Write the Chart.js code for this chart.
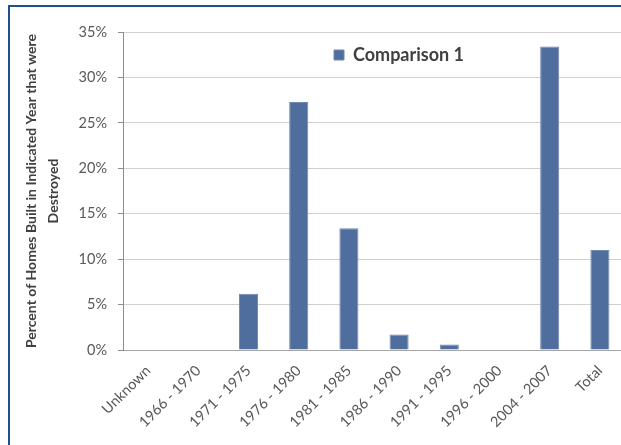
<!DOCTYPE html>
<html><head><meta charset="utf-8">
<script src="https://cdn.jsdelivr.net/npm/chart.js@4.4.1/dist/chart.umd.min.js"></script>
<style>
html,body{margin:0;padding:0;background:#fff;overflow:hidden;width:621px;height:445px;}
#frame{position:absolute;left:8px;top:5px;width:700px;height:600px;border-top:2px solid #1f4f8c;border-left:2px solid #1f4f8c;box-sizing:border-box;}
#c{position:absolute;left:0;top:0;width:630px;height:445px;}
</style></head><body>
<div id="frame"></div>
<canvas id="c" width="630" height="445"></canvas>
<script>
const categories = ['Unknown', '1966 - 1970', '1971 - 1975', '1976 - 1980', '1981 - 1985', '1986 - 1990', '1991 - 1995', '1996 - 2000', '2004 - 2007', 'Total'];
const comparison1 = [0, 0, 6.2, 27.3, 13.4, 1.7, 0.6, 0, 33.4, 11.0];
const seriesLabel = 'Comparison 1';
const yAxisTitle = ['Percent of Homes Built in Indicated Year that were', 'Destroyed'];
const yMin = 0, yMax = 35, yStep = 5;

const FONT = 'Lato, "Liberation Sans", sans-serif';

const moveLegend = {
  id: 'moveLegend',
  afterLayout(chart) {
    const lg = chart.legend;
    if (!lg) return;
    const w = lg.width, h = lg.height;
    lg.left = 324; lg.top = 36;
    lg.right = lg.left + w; lg.bottom = lg.top + h;
  }
};

new Chart(document.getElementById('c'), {
  type: 'bar',
  data: {
    labels: categories,
    datasets: [{
      label: seriesLabel,
      data: comparison1,
      backgroundColor: '#4f6e9e',
      borderColor: '#7088b0',
      borderWidth: 1,
      barPercentage: 0.38,
      categoryPercentage: 1.0
    }]
  },
  options: {
    responsive: false,
    devicePixelRatio: 1,
    animation: false,
    layout: { padding: { left: 10, top: 32, right: 5, bottom: 0 } },
    plugins: {
      tooltip: { enabled: false },
      legend: {
        position: 'chartArea',
        align: 'start',
        labels: {
          boxWidth: 10, boxHeight: 10, padding: 10,
          color: '#404040',
          font: { family: FONT, size: 18, weight: 'bold' }
        }
      }
    },
    scales: {
      x: {
        grid: { display: false },
        border: { display: true, color: '#a6a6a6' },
        ticks: {
          autoSkip: false, maxRotation: 45, minRotation: 45,
          color: '#595959', padding: 4,
          font: { family: FONT, size: 14.5 }
        },
        afterFit(s) { s.height = 95; }
      },
      y: {
        min: yMin, max: yMax,
        ticks: {
          stepSize: yStep, padding: 11, color: '#595959',
          font: { family: FONT, size: 14.5 },
          callback: (v) => v + '%'
        },
        grid: { color: '#d0d0d0', tickLength: 5, tickColor: '#8c8c8c' },
        border: { display: true, color: '#8c8c8c' },
        title: {
          display: true, text: yAxisTitle, color: '#404040',
          font: { family: FONT, size: 14, weight: 'bold', lineHeight: 1.6 },
          padding: { top: 10, bottom: 0 }
        },
        afterFit(s) { s.width = 113; }
      }
    }
  },
  plugins: [moveLegend]
});
</script>
</body></html>
